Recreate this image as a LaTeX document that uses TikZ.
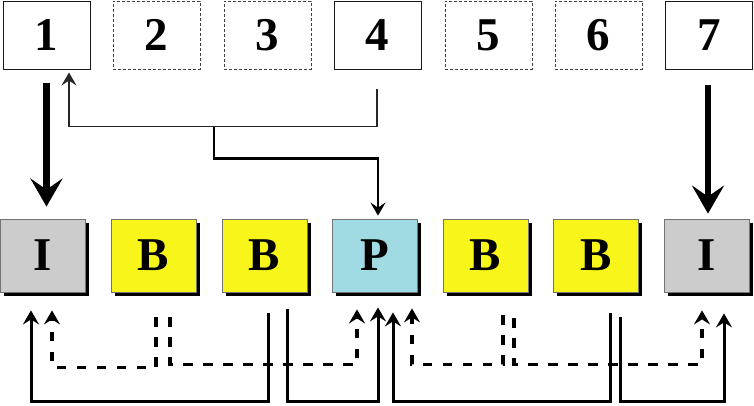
\documentclass[tikz,border=0pt]{standalone}
\usepackage{fontspec}
\setmainfont{Liberation Serif}
\usetikzlibrary{arrows.meta,calc,shadows}
\definecolor{igray}{HTML}{CCCCCC}
\definecolor{byellow}{HTML}{F7F519}
\definecolor{pcyan}{HTML}{A0DBE3}
\begin{document}
\begin{tikzpicture}[x=1pt,y=-1pt,
  lbl/.style={font=\bfseries\fontsize{47}{47}\selectfont, inner sep=0pt, text depth=0pt},
  topbox/.style={lbl, draw=black!90, line width=1pt, minimum width=87pt, minimum height=68pt},
  topdash/.style={topbox, draw=black!75, line width=0.9pt, dash pattern=on 3pt off 2pt},
  frame/.style={lbl, draw=black!55, line width=0.8pt, minimum width=85pt, minimum height=73pt,
    drop shadow={shadow xshift=3.5pt, shadow yshift=-3.5pt, opacity=1, fill=black}},
  bigline/.style={line width=6.5pt, -{Stealth[length=28pt,width=32pt,inset=11pt]}},
  thinline/.style={line width=1.3pt, draw=black!85, -{Stealth[length=13pt,width=15pt,inset=5pt]}},
  midline/.style={line width=2.6pt, -{Stealth[length=13pt,width=15pt,inset=5pt]}},
  solidref/.style={line width=3pt, -{Stealth[length=14pt,width=16pt,inset=5pt]}},
  dashref/.style={line width=3.5pt, dash pattern=on 9.5pt off 10.5pt, -{Stealth[length=14pt,width=16pt,inset=5pt]}}
]
\useasboundingbox (0,0) rectangle (754,405);

% top row
\node[topbox]  (t1) at (46.5,35) {1};
\node[topdash] (t2) at (156.5,35) {2};
\node[topdash] (t3) at (267.5,35) {3};
\node[topbox]  (t4) at (377.5,35) {4};
\node[topdash] (t5) at (488.5,35) {5};
\node[topdash] (t6) at (598.5,35) {6};
\node[topbox]  (t7) at (709,35) {7};

% lower row
\node[frame, fill=igray]   (i1) at (42.5,255.5) {I};
\node[frame, fill=byellow] (b1) at (153.5,255.5) {B};
\node[frame, fill=byellow] (b2) at (264.5,255.5) {B};
\node[frame, fill=pcyan]   (p)  at (375,255.5) {P};
\node[frame, fill=byellow] (b3) at (485.5,255.5) {B};
\node[frame, fill=byellow] (b4) at (596,255.5) {B};
\node[frame, fill=igray]   (i2) at (707,255.5) {I};

% top connectors
\draw[bigline] ($(t1.south)+(0,13)$) -- ($(t1.south |- i1.north)+(0,-12)$);
\draw[bigline] ($(t7.south)+(-1,15)$) -- ($(t7.south |- i2.north)+(-1,-5)$);
\coordinate (j) at ($(t1.south)+(167.5,57)$);
\draw[thinline] ($(t4.south)+(-0.5,19)$) |- ($(t1.south)+(22.5,57)$) -- ($(t1.south)+(22.5,3)$);
\draw[midline] (j) |- ($(p.north)+(3,-60)$) -- ($(p.north)+(3,-3)$);

% bottom references, left group
\draw[solidref] ($(b2.south)+(3.5,21)$) |- ($(i1.south)+(-11.5,109)$) -- ($(i1.south)+(-11.5,18)$);
\draw[solidref] ($(b2.south)+(22.5,17)$) |- ($(p.south)+(3,109)$) -- ($(p.south)+(3,15)$);
\draw[dashref] ($(b1.south)+(2.5,25)$) |- ($(i1.south)+(9.5,75)$) -- ($(i1.south)+(9.5,18)$);
\draw[dashref] ($(b1.south)+(16.5,25)$) |- ($(p.south)+(-18,72)$) -- ($(p.south)+(-18,17)$);

% bottom references, right group
\draw[solidref] ($(b4.south)+(14,21)$) |- ($(p.south)+(18,109)$) -- ($(p.south)+(18,20)$);
\draw[solidref] ($(b4.south)+(24,25)$) |- ($(i2.south)+(17,109)$) -- ($(i2.south)+(17,21)$);
\draw[dashref] ($(b3.south)+(17.5,23)$) |- ($(p.south)+(37,72)$) -- ($(p.south)+(37,16)$);
\draw[dashref] ($(b3.south)+(28.5,26)$) |- ($(i2.south)+(-5,72)$) -- ($(i2.south)+(-5,18)$);
\end{tikzpicture}
\end{document}
